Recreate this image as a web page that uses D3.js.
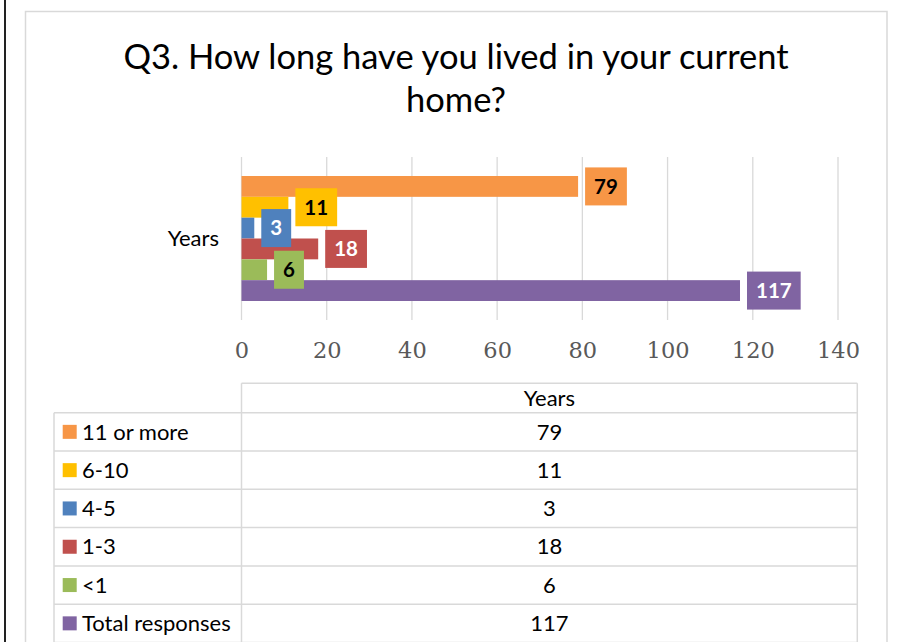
<!DOCTYPE html>
<html>
<head>
<meta charset="utf-8">
<script src="https://cdn.jsdelivr.net/npm/d3@7"></script>
<style>
  body { margin: 0; background: #fff; }
  svg { display: block; }
</style>
</head>
<body>
<svg id="chart"></svg>
<script>
// chart data
const categories = ['Years'];
const series = ['11 or more', '6-10', '4-5', '1-3', '<1', 'Total responses'];
const values = [79, 11, 3, 18, 6, 117];
const colors = ['#f79646', '#ffc000', '#4f81bd', '#c0504d', '#9bbb59', '#8064a2'];
const labelInk = ['#000', '#000', '#fff', '#fff', '#000', '#fff'];
const xTicks = [0, 20, 40, 60, 80, 100, 120, 140];
const titleLines = ['Q3. How long have you lived in your current', 'home?'];

const width = 909;
const height = 642;
const sans = 'Lato, "Open Sans", sans-serif';
const grid = '#d9d9d9';
const textSize = 22;

const svg = d3.select('#chart')
  .attr('width', width)
  .attr('height', height);

// page edge line + chart frame
svg.append('line')
  .attr('x1', 5).attr('x2', 5)
  .attr('y1', 0).attr('y2', height)
  .attr('stroke', '#222').attr('stroke-width', 2);

svg.append('rect')
  .attr('x', 25.5).attr('y', 11.5)
  .attr('width', 861.5).attr('height', height + 20)
  .attr('fill', '#fff')
  .attr('stroke', grid).attr('stroke-width', 1.5);

// title
svg.append('text')
  .attr('text-anchor', 'middle')
  .attr('font-family', sans)
  .attr('font-size', 34.5)
  .attr('fill', '#000')
  .selectAll('tspan')
  .data(titleLines)
  .enter().append('tspan')
  .attr('x', 456)
  .attr('y', (d, i) => 69 + i * 42.7)
  .text(d => d);

// scales
const plotTop = 157;
const plotBottom = 320;

const x = d3.scaleLinear()
  .domain([0, 140])
  .range([241.5, 838]);

const y = d3.scaleBand()
  .domain(categories)
  .range([plotTop, plotBottom])
  .paddingOuter(0.152)
  .paddingInner(0);

const ySeries = d3.scaleBand()
  .domain(series)
  .range([0, y.bandwidth()]);

// gridlines
svg.append('g')
  .selectAll('line')
  .data(xTicks)
  .enter().append('line')
  .attr('x1', d => x(d)).attr('x2', d => x(d))
  .attr('y1', plotTop).attr('y2', plotBottom)
  .attr('stroke', grid).attr('stroke-width', 1.3);

// x axis labels
const xAxis = d3.axisBottom(x)
  .tickValues(xTicks)
  .tickSize(0)
  .tickPadding(22);

const axisG = svg.append('g')
  .attr('transform', `translate(0,${plotBottom})`)
  .call(xAxis);
axisG.select('.domain').remove();
axisG.selectAll('text')
  .attr('font-family', '"DejaVu Serif", serif')
  .attr('font-size', 22.5)
  .attr('fill', '#595959');

// category label
svg.append('text')
  .attr('x', 219)
  .attr('y', y(categories[0]) + y.bandwidth() / 2)
  .attr('dy', '0.35em')
  .attr('text-anchor', 'end')
  .attr('font-family', sans)
  .attr('font-size', textSize)
  .attr('fill', '#000')
  .text(categories[0]);

// bars
const rows = series.map((s, i) => ({ name: s, value: values[i], color: colors[i], ink: labelInk[i] }));
const base = y(categories[0]);

svg.append('g')
  .selectAll('rect')
  .data(rows)
  .enter().append('rect')
  .attr('x', x(0))
  .attr('y', d => base + ySeries(d.name))
  .attr('width', d => x(d.value) - x(0))
  .attr('height', ySeries.bandwidth())
  .attr('fill', d => d.color);

// data labels (boxed, outside end)
const labelG = svg.append('g')
  .selectAll('g')
  .data(rows)
  .enter().append('g')
  .attr('transform', d => `translate(${x(d.value) + 7},${base + ySeries(d.name) + ySeries.bandwidth() / 2})`);

labelG.append('rect')
  .attr('y', -19)
  .attr('height', 38)
  .attr('fill', d => d.color);

const labelText = labelG.append('text')
  .attr('dy', '0.36em')
  .attr('text-anchor', 'middle')
  .attr('font-family', sans)
  .attr('font-weight', 'bold')
  .attr('font-size', 20.5)
  .attr('fill', d => d.ink)
  .text(d => d.value);

labelText.each(function () {
  const w = this.getComputedTextLength() + 18;
  d3.select(this.parentNode).select('rect').attr('width', w);
  d3.select(this).attr('x', w / 2);
});

// data table
const tableLeft = 54;
const colSplit = 241.5;
const tableRight = 857.3;
const headTop = 383.3;
const rowTop = 412.7;
const rowH = 38.3;

const table = svg.append('g');

table.append('line')
  .attr('x1', colSplit).attr('x2', tableRight)
  .attr('y1', headTop).attr('y2', headTop)
  .attr('stroke', grid).attr('stroke-width', 1.5);

table.selectAll('.hline')
  .data(d3.range(series.length + 1))
  .enter().append('line')
  .attr('class', 'hline')
  .attr('x1', tableLeft).attr('x2', tableRight)
  .attr('y1', i => rowTop + i * rowH).attr('y2', i => rowTop + i * rowH)
  .attr('stroke', grid).attr('stroke-width', 1.5);

[[tableLeft, rowTop], [colSplit, headTop], [tableRight, headTop]].forEach(([lx, ly]) => {
  table.append('line')
    .attr('x1', lx).attr('x2', lx)
    .attr('y1', ly).attr('y2', rowTop + series.length * rowH)
    .attr('stroke', grid).attr('stroke-width', 1.5);
});

const valueX = (colSplit + tableRight) / 2;

table.append('text')
  .attr('x', valueX)
  .attr('y', (headTop + rowTop) / 2)
  .attr('dy', '0.35em')
  .attr('text-anchor', 'middle')
  .attr('font-family', sans)
  .attr('font-size', textSize)
  .text(categories[0]);

const tr = table.selectAll('.row')
  .data(rows)
  .enter().append('g')
  .attr('class', 'row')
  .attr('transform', (d, i) => `translate(0,${rowTop + i * rowH + rowH / 2})`);

tr.append('rect')
  .attr('x', 62.7).attr('y', -7)
  .attr('width', 14).attr('height', 14)
  .attr('fill', d => d.color);

tr.append('text')
  .attr('x', 82)
  .attr('dy', '0.35em')
  .attr('font-family', sans)
  .attr('font-size', textSize)
  .text(d => d.name);

tr.append('text')
  .attr('x', valueX)
  .attr('dy', '0.35em')
  .attr('text-anchor', 'middle')
  .attr('font-family', sans)
  .attr('font-size', textSize)
  .text(d => d.value);
</script>
</body>
</html>
